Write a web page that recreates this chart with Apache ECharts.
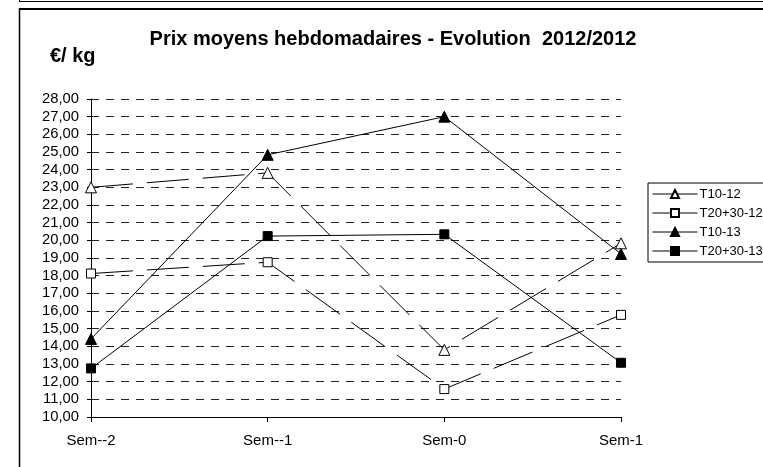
<!DOCTYPE html>
<html><head><meta charset="utf-8">
<script src="https://cdn.jsdelivr.net/npm/echarts@6/dist/echarts.min.js"></script>
<style>html,body{margin:0;padding:0;background:#fff;}#c{width:763px;height:467px;}</style>
</head><body><div id="c"></div>
<script>
const categories = ['Sem--2', 'Sem--1', 'Sem-0', 'Sem-1'];
const t10_12 = [23.0, 23.82, 13.8, 19.83];
const t2030_12 = [18.12, 18.76, 11.58, 15.78];
const t10_13 = [14.42, 24.84, 27.0, 19.23];
const t2030_13 = [12.75, 20.24, 20.34, 13.07];
const seriesNames = ['T10-12', 'T20+30-12', 'T10-13', 'T20+30-13'];
const yMin = 10, yMax = 28, yStep = 1;

const F = 'Arial, "Liberation Sans", sans-serif';
const chart = echarts.init(document.getElementById('c'), null, {renderer: 'canvas'});
function mk(name, data, symbol, size, filled, dashed) {
  return {
    name, type: 'line', data, symbol, symbolSize: size, showSymbol: true,
    lineStyle: {color: '#000', width: 1, type: dashed ? [42, 14] : 'solid'},
    itemStyle: {color: filled ? '#000' : '#fff', borderColor: '#000', borderWidth: 1},
    emphasis: {disabled: true}, animation: false, z: 3
  };
}
chart.setOption({
  animation: false,
  backgroundColor: '#fff',
  title: {
    text: 'Prix moyens hebdomadaires - Evolution  2012/2012',
    left: 388, top: 24, textAlign: 'center',
    textStyle: {fontFamily: F, fontWeight: 'bold', fontSize: 20, color: '#000'}
  },
  graphic: [
    {type: 'line', shape: {x1: 19, y1: 1.5, x2: 763, y2: 1.5}, style: {stroke: '#000', lineWidth: 1}},
    {type: 'line', shape: {x1: 19.5, y1: 0, x2: 19.5, y2: 2}, style: {stroke: '#000', lineWidth: 1}},
    {type: 'line', shape: {x1: 19, y1: 9, x2: 763, y2: 9}, style: {stroke: '#000', lineWidth: 2}},
    {type: 'line', shape: {x1: 19.5, y1: 8, x2: 19.5, y2: 467}, style: {stroke: '#000', lineWidth: 1.5}},
    {type: 'text', left: 50, top: 46, style: {text: '€/ kg', font: 'bold 20px ' + F, fill: '#000'}}
  ],
  legend: {
    left: 648, top: 183, orient: 'vertical',
    data: seriesNames,
    itemWidth: 45, itemHeight: 10, itemGap: 5,
    padding: [4, 6, 4, 4],
    borderColor: '#000', borderWidth: 1, backgroundColor: '#fff',
    lineStyle: {type: 'solid', width: 1, color: '#000'},
    textStyle: {fontFamily: F, fontSize: 13, lineHeight: 14, color: '#000', padding: [0, 0, 0, -3]},
    selectedMode: false
  },
  grid: {left: 91, right: 142, top: 99, bottom: 50},
  xAxis: {
    type: 'category', data: categories, boundaryGap: false,
    axisLine: {lineStyle: {color: '#000', width: 1}},
    axisTick: {show: true, length: 5, alignWithLabel: true, lineStyle: {color: '#000'}},
    axisLabel: {fontFamily: F, fontSize: 15, color: '#000', margin: 16},
    splitLine: {show: false}
  },
  yAxis: {
    type: 'value', min: yMin, max: yMax, interval: yStep,
    axisLine: {show: true, lineStyle: {color: '#000', width: 1}},
    axisTick: {show: true, length: 4, lineStyle: {color: '#000'}},
    axisLabel: {fontFamily: F, fontSize: 14.8, color: '#000', margin: 12,
      formatter: v => v.toFixed(2).replace('.', ',')},
    splitLine: {show: true, lineStyle: {color: '#222', width: 1, type: [8, 7]}}
  },
  series: [
    mk(seriesNames[0], t10_12, 'triangle', 11, false, true),
    mk(seriesNames[1], t2030_12, 'rect', 9, false, true),
    mk(seriesNames[2], t10_13, 'triangle', 11, true, false),
    mk(seriesNames[3], t2030_13, 'rect', 9, true, false)
  ]
});
</script></body></html>
